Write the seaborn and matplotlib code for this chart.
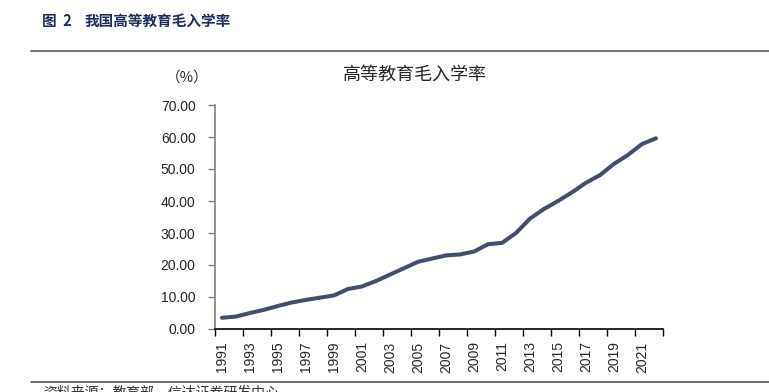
import numpy as np
import pandas as pd
import seaborn as sns
import matplotlib.pyplot as plt
from matplotlib.lines import Line2D

# 高等教育毛入学率 (%)，1991-2022
years = list(range(1991, 2023))
rates = [3.5, 3.9, 5.0, 6.0, 7.2, 8.3, 9.1, 9.8, 10.5, 12.5, 13.3, 15.0,
         17.0, 19.0, 21.0, 22.0, 23.0, 23.3, 24.2, 26.5, 26.9, 30.0, 34.5,
         37.5, 40.0, 42.7, 45.7, 48.1, 51.6, 54.4, 57.8, 59.6]
yticks = [0, 10, 20, 30, 40, 50, 60, 70]
xlabels = [str(y) for y in range(1991, 2022, 2)]

sns.set_style("white")
plt.rcParams["font.family"] = ["Liberation Sans", "Noto Sans CJK SC", "DejaVu Sans"]

W, H = 769, 392
fig = plt.figure(figsize=(W / 100, H / 100), dpi=100)
ax = fig.add_axes([215 / W, 1 - 329 / H, (663 - 215) / W, (329 - 105) / H])

df = pd.DataFrame({"year": years, "rate": rates})
sns.lineplot(data=df, x="year", y="rate", ax=ax, color="#434E6E",
             linewidth=2.9, solid_joinstyle="round", solid_capstyle="round")

ax.set_xlim(1990.5, 2022.5)
ax.set_ylim(0, 70)
ax.set_yticks(yticks)
ax.set_yticklabels([f"{v:.2f}" for v in yticks], fontsize=10)
ax.set_xticks(np.arange(1990.5, 2023, 2))
ax.set_xticklabels([])
ax.set_xticks([int(s) for s in xlabels], minor=True)
ax.set_xticklabels(xlabels, minor=True, rotation=90, fontsize=10)
ax.tick_params(axis="x", which="major", direction="out", length=5, width=1,
               color="black", bottom=True)
ax.tick_params(axis="x", which="minor", length=0, pad=9, bottom=True)
ax.tick_params(axis="y", direction="out", length=5, width=1, color="#808080",
               left=True, pad=9)
ax.set_xlabel("")
ax.set_ylabel("")
for s in ["top", "right"]:
    ax.spines[s].set_visible(False)
ax.spines["left"].set_color("#808080")
ax.spines["left"].set_linewidth(1.2)
ax.spines["bottom"].set_color("black")
ax.spines["bottom"].set_linewidth(1.2)

fig.text(415 / W, 1 - 75 / H, "高等教育毛入学率", fontsize=13,
         ha="center", va="center", family=["Noto Sans CJK SC"])
fig.text(187 / W, 1 - 78 / H, "（%）", fontsize=10.5,
         ha="center", va="center", family=["Noto Sans CJK SC"])

fig.text(42 / W, 1 - 21 / H, "图  2", fontsize=10.5, fontweight="bold",
         color="#1F2D5A", ha="left", va="center", family=["Noto Sans CJK SC"])
fig.text(85 / W, 1 - 21 / H, "我国高等教育毛入学率", fontsize=10.5,
         fontweight="bold", color="#1F2D5A", ha="left", va="center",
         family=["Noto Sans CJK SC"])

fig.add_artist(Line2D([31 / W, 1], [1 - 51 / H] * 2, color="#555555",
                      linewidth=1.2, transform=fig.transFigure))
fig.add_artist(Line2D([31 / W, 1], [1 - 381.5 / H] * 2, color="#555555",
                      linewidth=1.2, transform=fig.transFigure))
fig.text(43 / W, 1 - 385 / H, "资料来源：教育部，信达证券研发中心", fontsize=10,
         color="#333333", ha="left", va="top", style="italic",
         family=["Noto Sans CJK SC"])

fig.savefig("out.png", dpi=100)
